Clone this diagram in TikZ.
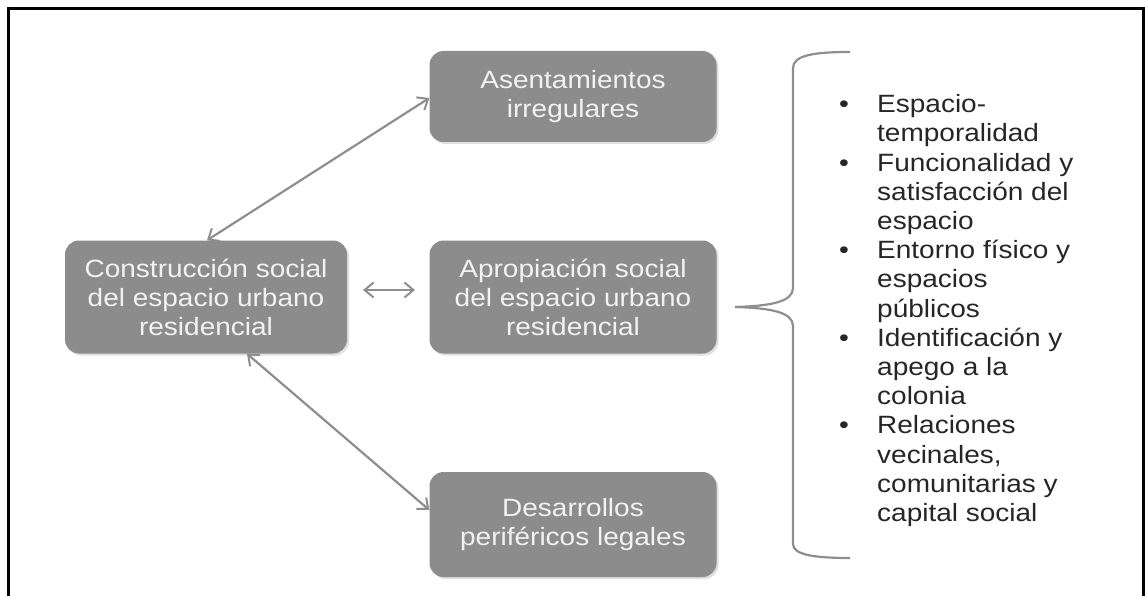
\documentclass[tikz,border=0pt]{standalone}
\usepackage{fontspec}
\setmainfont[FakeStretch=1.12]{Liberation Sans}
\usetikzlibrary{arrows.meta,shadows}
\definecolor{boxgray}{HTML}{8C8C8C}
\definecolor{boxtext}{HTML}{F2F2F2}
\definecolor{linegray}{HTML}{8E8E8E}
\tikzset{
  gbox/.style={fill=boxgray, rounded corners=14pt, text=boxtext, align=center,
    font=\fontsize{25}{29}\selectfont, inner sep=0pt,
    drop shadow={shadow xshift=2pt, shadow yshift=-2pt, fill=black!25, opacity=0.5}},
  conn/.style={draw=linegray, line width=2.2pt,
    {Straight Barb[length=9pt,width=15pt,line width=2pt]}-{Straight Barb[length=9pt,width=15pt,line width=2pt]}},
  frameline/.style={draw=black, line width=3pt},
  bracket/.style={draw=linegray, line width=2.2pt},
}
\begin{document}
\begin{tikzpicture}[x=1pt,y=-1pt]
\useasboundingbox (0,0) rectangle (1145,596);
% frame
\draw[frameline] (8.5,596) -- (8.5,8.5) -- (1143.5,8.5) -- (1143.5,596);
% boxes
\node[gbox, minimum width=282pt, minimum height=113pt] (cons) at (206,297)
  {Construcción social\\del espacio urbano\\residencial};
\node[gbox, minimum width=287pt, minimum height=113pt] (apro) at (573,297)
  {Apropiación social\\del espacio urbano\\residencial};
\node[gbox, minimum width=287pt, minimum height=91pt] (asen) at (573,96.5)
  {Asentamientos\\irregulares};
\node[gbox, minimum width=287pt, minimum height=105pt] (desa) at (573,524.5)
  {Desarrollos\\periféricos legales};
% connectors
\coordinate (hL) at (363,290);
\coordinate (hR) at (415,290);
\draw[conn] (asen.west |- 0,98) -- (cons.north -| 207,0);
\draw[conn] (cons.south -| 247,0) -- (desa.west |- 0,510);
\draw[conn] (hL) -- (hR);
% bracket
\coordinate (bT) at (850,52);
\coordinate (bB) at (850,558);
\coordinate (bTip) at (735,307);
\draw[bracket] (bT) .. controls (815,52) and (793,55) .. (793,68)
  -- (793,288) .. controls (793,302) and (770,306) .. (bTip);
\draw[bracket] (bTip) .. controls (770,308) and (793,312) .. (793,326)
  -- (793,544) .. controls (793,555) and (815,558) .. (bB);
% list
\node[anchor=north west, align=left, inner sep=0pt, font=\fontsize{25}{29.2}\selectfont, text=black!85] (list) at (839,92)
{\begin{tabular}{@{}p{38pt}@{}l@{}}
\textbullet & Espacio-\\
 & temporalidad\\
\textbullet & Funcionalidad y\\
 & satisfacción del\\
 & espacio\\
\textbullet & Entorno físico y\\
 & espacios\\
 & públicos\\
\textbullet & Identificación y\\
 & apego a la\\
 & colonia\\
\textbullet & Relaciones\\
 & vecinales,\\
 & comunitarias y\\
 & capital social
\end{tabular}};
\end{tikzpicture}
\end{document}
